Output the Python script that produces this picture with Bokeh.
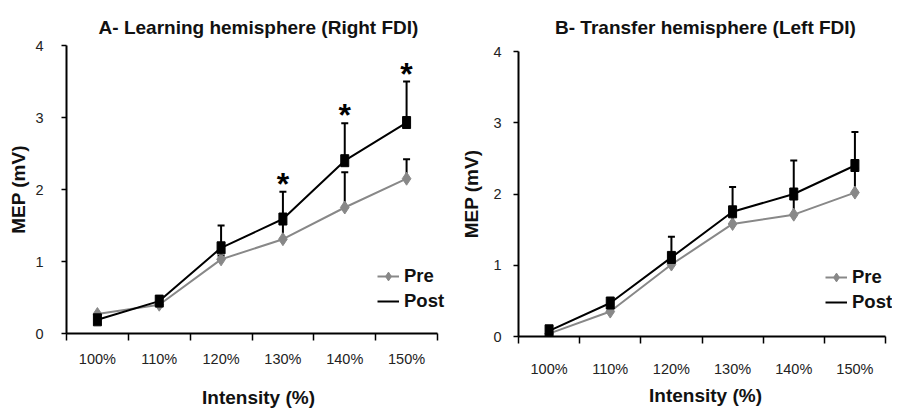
from bokeh.plotting import figure
from bokeh.layouts import row
from bokeh.models import (ColumnDataSource, Whisker, TeeHead, Legend, LegendItem,
                          FixedTicker, Range1d, LinearAxis)
from bokeh.core.properties import value
from bokeh.embed import file_html
from bokeh.resources import INLINE

# ---------------- data ----------------
intensities = ["100%", "110%", "120%", "130%", "140%", "150%"]
y_ticks = [0, 1, 2, 3, 4]

a_pre = [0.27, 0.40, 1.03, 1.31, 1.75, 2.15]
a_pre_upper = [0.27, 0.40, 1.08, 1.55, 2.24, 2.42]
a_post = [0.19, 0.45, 1.19, 1.59, 2.40, 2.93]
a_post_upper = [0.19, 0.45, 1.50, 1.97, 2.92, 3.50]
a_sig = [False, False, False, True, True, True]

b_pre = [0.04, 0.35, 1.01, 1.58, 1.71, 2.02]
b_pre_upper = [0.04, 0.35, 1.05, 1.72, 1.97, 2.36]
b_post = [0.08, 0.47, 1.11, 1.75, 2.00, 2.40]
b_post_upper = [0.08, 0.47, 1.40, 2.10, 2.47, 2.87]
b_sig = [False, False, False, False, False, False]

FONT = "Liberation Sans"
GRAY = "#888888"


def panel(title, pre, pre_up, post, post_up, sig, cfg):
    n = len(intensities)
    xs = [i + 0.5 for i in range(n)]
    fw = cfg["fw"] + cfg["ext"]
    x_end = n * fw / cfg["fw"]
    p = figure(frame_width=fw, frame_height=cfg["fh"],
               x_range=Range1d(0, x_end), y_range=Range1d(y_ticks[0], y_ticks[-1]),
               output_backend="svg", toolbar_location=None,
               min_border_left=cfg["bl"], min_border_right=cfg["br"],
               min_border_top=cfg["bt"], min_border_bottom=cfg["bb"],
               background_fill_color="white", border_fill_color="white")
    p.frame_align = False
    p.outline_line_color = None
    p.xgrid.visible = False
    p.ygrid.visible = False

    # x axis (the default one below the frame)
    xa = p.below[0]
    xa.bounds = (0, n)
    xa.ticker = FixedTicker(ticks=xs, minor_ticks=list(range(n + 1)))
    xa.major_label_overrides = {x: lab for x, lab in zip(xs, intensities)}
    xa.major_tick_out = 0
    xa.major_tick_in = 0
    xa.minor_tick_out = 7
    xa.minor_tick_in = 0
    xa.minor_tick_line_width = 1.5
    xa.minor_tick_line_color = "black"
    xa.axis_line_width = 2
    xa.axis_line_color = "black"
    xa.major_label_text_font = FONT
    xa.major_label_text_font_size = "14.5px"
    xa.major_label_text_color = "#222222"
    xa.major_label_standoff = cfg["xls"]
    xa.axis_label = "Intensity (%)"
    xa.axis_label_text_font = FONT
    xa.axis_label_text_font_style = "bold"
    xa.axis_label_text_font_size = "19px"
    xa.axis_label_text_color = "#111111"
    xa.axis_label_standoff = cfg["xas"]

    # y axis
    ya = p.left[0]
    ya.ticker = FixedTicker(ticks=y_ticks, minor_ticks=[])
    ya.major_tick_out = 5
    ya.major_tick_in = 0
    ya.major_tick_line_width = 1.5
    ya.axis_line_width = 2
    ya.axis_line_color = "black"
    ya.major_label_text_font = FONT
    ya.major_label_text_font_size = "14.5px"
    ya.major_label_text_color = "#222222"
    ya.major_label_standoff = cfg["yls"]
    ya.axis_label = "MEP (mV)"
    ya.axis_label_text_font = FONT
    ya.axis_label_text_font_style = "bold"
    ya.axis_label_text_font_size = "19px"
    ya.axis_label_text_color = "#111111"
    ya.axis_label_standoff = cfg["yas"]

    # panel title, drawn as the label of a bare axis above the frame
    ta = LinearAxis(axis_label=title, ticker=FixedTicker(ticks=[], minor_ticks=[]),
                    bounds=cfg["tbounds"], axis_line_color=None,
                    major_tick_line_color=None, minor_tick_line_color=None,
                    major_tick_out=0, major_tick_in=0, minor_tick_out=0,
                    minor_tick_in=0, major_label_standoff=0,
                    major_label_text_font_size="0px",
                    axis_label_standoff=cfg["tstand"],
                    axis_label_text_font=FONT, axis_label_text_font_style="bold",
                    axis_label_text_font_size="19px",
                    axis_label_text_color="#111111")
    p.add_layout(ta, "above")

    src = ColumnDataSource(dict(x=xs, pre=pre, pre_up=pre_up, post=post, post_up=post_up))

    # error bars (upper only), drawn under glyphs
    for ycol, ucol in (("pre", "pre_up"), ("post", "post_up")):
        w = Whisker(base="x", lower=ycol, upper=ucol, source=src, dimension="height",
                    line_width=2, line_color="black",
                    upper_head=TeeHead(size=7, line_width=2, line_color="black"),
                    lower_head=None)
        p.add_layout(w)

    pre_line = p.line("x", "pre", source=src, line_color=GRAY, line_width=2)
    pre_mark = p.scatter("x", "pre", source=src, marker="diamond", size=13,
                         fill_color=GRAY, line_color=GRAY)
    post_line = p.line("x", "post", source=src, line_color="black", line_width=2)
    p.rect("x", "post", source=src, width=8, height=12, width_units="screen",
           height_units="screen", fill_color="black", line_color="black")
    post_leg = p.scatter(x=[], y=[], marker="square", size=9, fill_color="black",
                         line_color="black")

    # significance asterisks
    sx = [x for x, s in zip(xs, sig) if s]
    sy = [u for u, s in zip(post_up, sig) if s]
    if sx:
        ssrc = ColumnDataSource(dict(x=sx, y=sy, t=["*"] * len(sx)))
        p.text("x", "y", text="t", source=ssrc, text_font=value(FONT),
               text_font_style="bold", text_font_size="32px", text_align="center",
               text_baseline="alphabetic", y_offset=-8, text_color="black")

    leg = Legend(items=[LegendItem(label="Pre", renderers=[pre_line, pre_mark]),
                        LegendItem(label="Post", renderers=[post_line, post_leg])],
                 location=cfg["legloc"], orientation="vertical",
                 background_fill_alpha=0, border_line_color=None,
                 padding=0, margin=0, spacing=3,
                 glyph_width=22, glyph_height=22, label_height=20,
                 label_standoff=5,
                 label_text_font=FONT, label_text_font_style="bold",
                 label_text_font_size="18.5px", label_text_color="#111111")
    p.add_layout(leg)
    return p


cfg_a = dict(fw=371, ext=13, fh=288, bl=66, br=0, bt=45, bb=77,
             tbounds=(0.44, 6), tstand=8,
             xls=10, xas=17, yls=18, yas=3, legloc=(311, 21))
cfg_b = dict(fw=367, ext=7, fh=285, bl=68, br=7, bt=51, bb=74,
             tbounds=(0, 6), tstand=14,
             xls=17, xas=5, yls=12, yas=8, legloc=(307, 23))

pa = panel("A- Learning hemisphere (Right FDI)", a_pre, a_pre_upper, a_post,
           a_post_upper, a_sig, cfg_a)
pb = panel("B- Transfer hemisphere (Left FDI)", b_pre, b_pre_upper, b_post,
           b_post_upper, b_sig, cfg_b)

layout = row(pa, pb, spacing=0)
open("out.html", "w").write(file_html(layout, INLINE))
